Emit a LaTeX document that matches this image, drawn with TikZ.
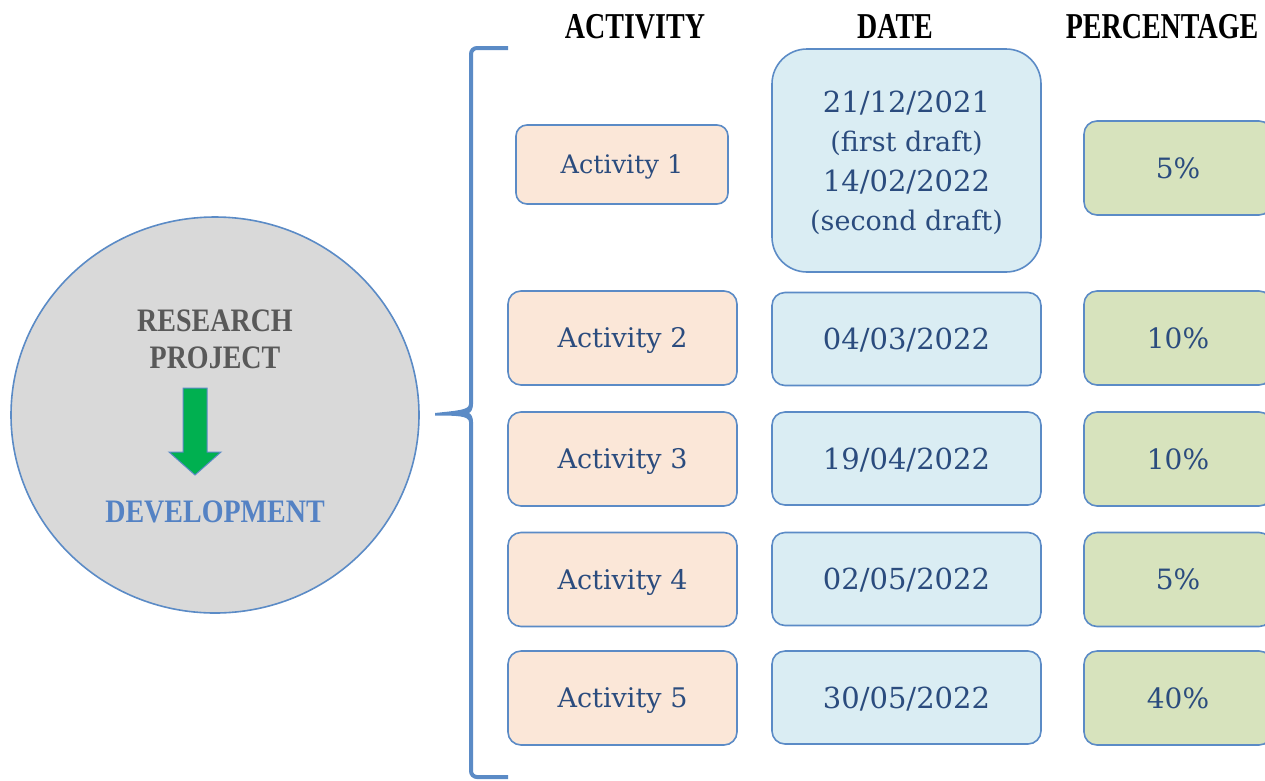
\documentclass[tikz,border=0pt]{standalone}
\usepackage{fontspec}
\usepackage{graphicx}
\setmainfont{DejaVu Serif}
\newfontfamily\lib{Liberation Serif}
\usetikzlibrary{shapes.geometric}
\definecolor{bord}{HTML}{5B8BC6}
\definecolor{txt}{HTML}{2B4C7E}
\definecolor{peach}{HTML}{FBE7D8}
\definecolor{sky}{HTML}{DAEDF3}
\definecolor{leaf}{HTML}{D7E3BD}
\definecolor{circfill}{HTML}{D9D9D9}
\definecolor{darkg}{HTML}{595959}
\definecolor{devblue}{HTML}{5482C4}
\definecolor{arrgreen}{HTML}{00B050}
\tikzset{
  cell/.style={draw=bord, line width=1.6pt, rounded corners=13pt, text=txt, inner sep=0pt, align=center,
    font=\fontsize{27}{39.5}\selectfont},
  actbox/.style={cell, fill=peach, minimum width=229, minimum height=94, text depth=1pt},
  datebox/.style={cell, fill=sky, minimum width=269, minimum height=93, font=\fontsize{29}{39.5}\selectfont, text depth=0pt},
  pctbox/.style={cell, fill=leaf, minimum width=188, minimum height=94, font=\fontsize{28}{39.5}\selectfont, text depth=0pt},
  header/.style={inner sep=0pt, text=black},
  circtext/.style={inner sep=0pt},
}
\newcommand{\hdr}[1]{\scalebox{1}[1.3]{\lib\bfseries\fontsize{28}{30}\selectfont #1}}
\newcommand{\ctx}[1]{\scalebox{1}[1.17]{\lib\bfseries\fontsize{28}{30}\selectfont #1}}
\newcommand{\sm}{\fontsize{27}{39.5}\selectfont}
\begin{document}
\begin{tikzpicture}[x=1pt,y=-1pt]
\useasboundingbox (0,0) rectangle (1265,780);
\clip (0,0) rectangle (1265,780);
% headers
\node[header] (hact) at (635,27) {\hdr{ACTIVITY}};
\node[header] (hdate) at (895,27) {\hdr{DATE}};
\node[header] (hpct) at (1162,27) {\hdr{PERCENTAGE}};
% circle
\node[ellipse, draw=bord, line width=1.6pt, fill=circfill, minimum width=408, minimum height=396, inner sep=0pt] (circ) at (215,415) {};
\node[circtext, text=darkg] (res) at (215,321) {\ctx{RESEARCH}};
\node[circtext, text=darkg] (proj) at (215,358) {\ctx{PROJECT}};
\node[circtext, text=devblue] (dev) at (215,512) {\ctx{DEVELOPMENT}};
\draw[fill=arrgreen, draw=bord, line width=1pt] (183,388) -- (207,388) -- (207,452) -- (221,452) -- (195,475) -- (169,452) -- (183,452) -- cycle;
% brace
\coordinate (btop) at (508,48);
\coordinate (bbot) at (508,777);
\coordinate (btip) at (435,413);
\draw[draw=bord, line width=4pt, rounded corners=6pt] (btop) -- (471,48) -- (471,404);
\draw[draw=bord, line width=4pt, rounded corners=6pt] (bbot) -- (471,777) -- (471,422);
\fill[bord] (469,404) .. controls (469,410) and (458,410.5) .. (btip) -- (435,415.5) .. controls (458,415.5) and (469,416) .. (469,422) -- (473,422) .. controls (473,417) and (471,414) .. (469,413) .. controls (471,412) and (473,409) .. (473,404) -- cycle;
% activity boxes
\node[actbox, minimum width=212, minimum height=79, rounded corners=11pt, font=\fontsize{25.5}{30}\selectfont] (a1) at (622,164.5) {Activity 1};
\node[actbox] (a2) at (622.5,338) {Activity 2};
\node[actbox] (a3) at (622.5,459) {Activity 3};
\node[actbox] (a4) at (622.5,579.5) {Activity 4};
\node[actbox] (a5) at (622.5,698) {Activity 5};
% date boxes
\node[datebox, minimum height=223, rounded corners=35pt, text depth=-2pt] (d1) at (906.5,160.5) {21/12/2021\\{\sm(first draft)}\\14/02/2022\\{\sm(second draft)}};
\node[datebox] (d2) at (906.5,339) {04/03/2022};
\node[datebox] (d3) at (906.5,458.5) {19/04/2022};
\node[datebox] (d4) at (906.5,579) {02/05/2022};
\node[datebox] (d5) at (906.5,697.5) {30/05/2022};
% percentage boxes
\node[pctbox] (p1) at (1178,168) {5\%};
\node[pctbox] (p2) at (1178,338) {10\%};
\node[pctbox] (p3) at (1178,459) {10\%};
\node[pctbox] (p4) at (1178,579.5) {5\%};
\node[pctbox] (p5) at (1178,698) {40\%};
\end{tikzpicture}
\end{document}
